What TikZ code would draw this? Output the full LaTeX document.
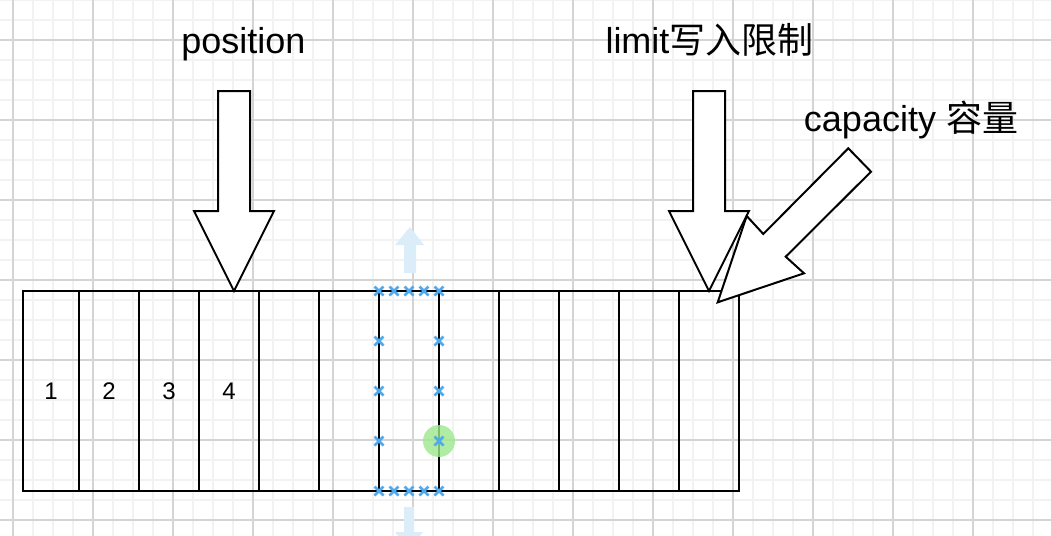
\documentclass[tikz,border=0pt]{standalone}
\usepackage{fontspec}
\setmainfont{Liberation Sans}
\newfontfamily\cjk{Noto Sans CJK SC}
\usepackage{tikz}
\usetikzlibrary{positioning}
\usepackage{xcolor}
\definecolor{gridminor}{HTML}{F2F2F2}
\definecolor{gridmajor}{HTML}{D4D4D4}
\definecolor{selblue}{HTML}{4FA9EE}
\definecolor{hintblue}{HTML}{DCEDFA}
\definecolor{hoverdot}{HTML}{9DE88C}

\begin{document}
\begin{tikzpicture}[
  x=0.5pt, y=-0.5pt,
  cell/.style={
    draw, line width=1pt, minimum width=30pt,
    minimum height=100pt, inner sep=0pt, outer sep=0pt,
    font=\fontsize{12}{14}\selectfont
  },
  bigarrow/.style={draw, line width=1pt, fill=white, line join=miter},
  hintarrow/.style={fill=hintblue},
  lbl/.style={font=\fontsize{18}{22}\selectfont, anchor=base},
  minorgrid/.style={draw=gridminor, line width=1pt},
  majorgrid/.style={draw=gridmajor, line width=0.55pt},
  selmark/.style={draw=selblue, line width=1.3pt}
]
  \fill[white] (0,0) rectangle (1051,536);
  \useasboundingbox (0,0) rectangle (1051,536);

  % grid
  \foreach \gx in {13,33,...,1033}
    \draw[minorgrid] (\gx,0) -- (\gx,536);
  \foreach \gy in {0,20,...,520}
    \draw[minorgrid] (0,\gy) -- (1051,\gy);
  \foreach \gx in {13,93,...,973}
    \draw[majorgrid] (\gx,0) -- (\gx,536);
  \foreach \gy in {40,120,...,520}
    \draw[majorgrid] (0,\gy) -- (1051,\gy);

  % hint arrows of the selection
  \fill[hintarrow] (410,227) -- (424,245) -- (416,245) -- (416,273)
    -- (404,273) -- (404,245) -- (395,245) -- cycle;
  \fill[hintarrow] (409,550) -- (423,532) -- (414,532) -- (414,507)
    -- (404,507) -- (404,532) -- (395,532) -- cycle;

  % buffer cells
  \node[cell, minimum width=28pt, anchor=north west] (c1) at (23,291) {1};
  \foreach \i/\t [remember=\i as \p (initially 1)] in
      {2/2, 3/3, 4/4, 5/{}, 6/{}, 7/{}, 8/{}, 9/{}, 10/{}, 11/{}, 12/{}}
    \node[cell, right=0pt of c\p] (c\i) {\t};

  % position and limit arrows
  \coordinate (postip) at (234,291);
  \coordinate (limtip) at (709,291);
  \foreach \tip in {postip, limtip}
    \draw[bigarrow] (\tip) -- ++(-40,-80) -- ++(24,0) -- ++(0,-120)
      -- ++(32,0) -- ++(0,120) -- ++(24,0) -- cycle;

  % capacity arrow
  \coordinate (captip) at (717.7,302.3);
  \draw[bigarrow] (captip) -- (746.7,216) -- (763.3,234) -- (848.3,148.3)
    -- (871,171.7) -- (785.7,256.7) -- (804,273.3) -- cycle;

  % labels
  \node[lbl] (postext) at (243.5,53) {position};
  \node[lbl] (limtext) at (709.5,53) {limit{\cjk 写入限制}};
  \node[lbl] (captext) at (911,131.7) {capacity {\cjk 容量}};

  % selection handles
  \fill[hoverdot, opacity=0.8] (439,441) circle[radius=16];
  \foreach \mx/\my in {379/291, 394/291, 409/291, 424/291, 439/291,
      379/491, 394/491, 409/491, 424/491, 439/491,
      379/341, 379/391, 379/441, 439/341, 439/391, 439/441}
    \draw[selmark] (\mx-4.5,\my-4.5) -- (\mx+4.5,\my+4.5)
      (\mx-4.5,\my+4.5) -- (\mx+4.5,\my-4.5);
\end{tikzpicture}
\end{document}
